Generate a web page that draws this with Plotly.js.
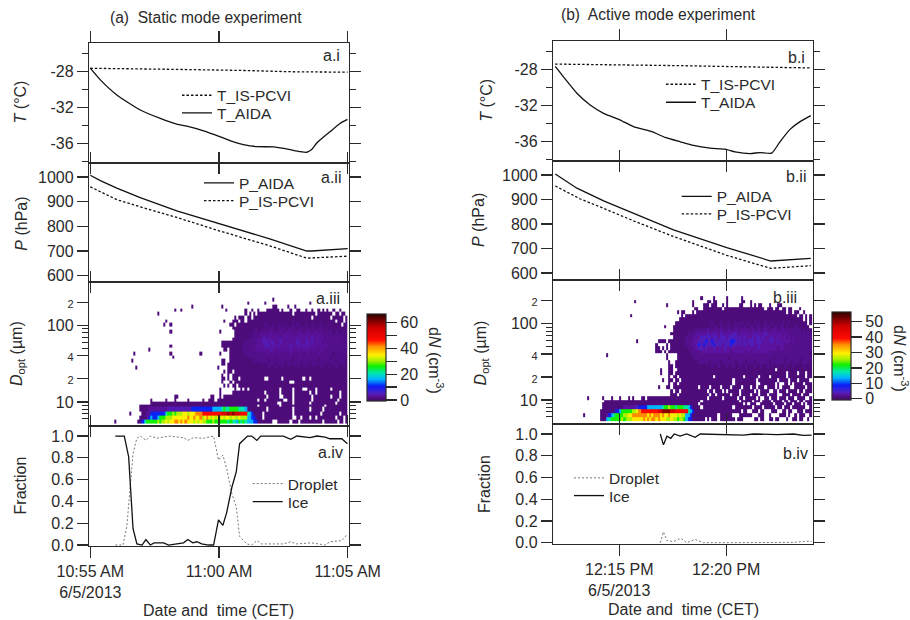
<!DOCTYPE html>
<html><head><meta charset="utf-8">
<script src="https://cdn.plot.ly/plotly-3.0.1.min.js"></script>
<style>html,body{margin:0;padding:0;background:#fff}</style></head>
<body><div id="chart" style="width:910px;height:620px"></div>
<script>
// ---------- line data: minutes after the reference tick, and readings ----------
const aTimeT = [0,.39,1.03,1.94,2.72,3.36,3.75,4.40,5.05,5.56,5.95,6.47,7.12,7.63,8.15,8.41,8.60,8.80,9.31,9.70,9.99];
const aTempAIDA = [-27.59,-28.90,-30.58,-32.26,-33.20,-33.83,-34.06,-34.58,-35.25,-35.81,-36.11,-36.34,-36.37,-36.60,-36.90,-36.97,-36.67,-35.93,-34.69,-33.76,-33.31];
const aTimeTI = [0,2,4,6,8,10];
const aTempPCVI = [-27.6,-27.65,-27.75,-27.85,-28,-28.03];
const aTimeP = [0,.39,1.03,1.94,3.36,5,7,8.41,8.6,10];
const aPresAIDA = [1007,985,955,916,863,811,748,700,700,710];
const aTimePI = [0,1.03,1.94,3.36,5,7,8.41,10];
const aPresPCVI = [960,908,879,836,782,720,671,679];
const aTimeIce = [.97,1.32,1.49,1.58,1.66,1.81,2.01,2.16,2.33,2.48,2.85,3.04,3.62,3.79,3.98,4.14,4.33,4.59,4.79,4.98,5.15,5.30,5.50,5.67,5.80,6.11,6.27,6.47,6.62,7.50,7.79,8.02,8.54,8.80,9.12,9.31,9.77,9.99];
const aIce = [1,1,.81,.47,.15,.01,0,.05,0,.02,.02,0,.02,.05,.02,.03,.01,0,0,.23,.18,.30,.53,.67,.93,1,1,.96,1,1,.97,1,.985,1,.99,.975,.975,.93];
const aTimeDrop = [.97,1.27,1.42,1.55,1.66,1.81,1.94,2.16,2.33,2.59,3.04,3.62,3.79,4.01,4.40,4.79,4.98,5.15,5.30,5.50,5.67,5.80,6.08,6.27,6.47,6.66,7.50,7.79,8.02,8.60,9.12,9.31,9.77,9.99];
const aDroplet = [0,0,.17,.50,.84,.98,1,.96,1,.98,1,.985,.96,.985,.98,1,.78,.825,.70,.47,.35,.08,.01,0,.04,.01,.01,.03,.01,.02,0,.03,.04,.10];

const bTimeT = [-2.99,-2.60,-1.98,-1.36,-.73,.05,.67,1.53,2.15,2.85,3.47,4.25,4.95,5.42,6.12,6.59,7.13,7.52,7.99,8.46,8.96];
const bTempAIDA = [-27.63,-28.82,-30.61,-31.92,-32.85,-33.60,-34.34,-34.90,-35.54,-36.02,-36.43,-36.73,-36.84,-37.14,-37.33,-37.22,-37.29,-36.02,-34.64,-33.78,-33.11];
const bTimeTI = [-3,0,3,6,9];
const bTempPCVI = [-27.37,-27.42,-27.55,-27.68,-27.8];
const bTimeP = [-2.99,-1.98,-.73,.75,2.54,5.03,7.09,8.96];
const bPresAIDA = [1004,946,894,841,776,704,649,660];
const bTimePI = [-2.99,-1.82,-.73,.75,2.54,5.03,7.09,8.96];
const bPresPCVI = [955,902,864,810,749,672,619,630];
const bTimeIce = [1.92,2.07,2.23,2.41,2.57,2.85,3.16,3.55,3.79,4.41,5.03,5.81,6.28,7.37,8.15,8.61,9];
const bIce = [1,.90,.98,.96,1,.98,1,.97,1,.995,.995,.99,1,.995,1,.988,.99];
const bTimeDrop = [1.92,2.07,2.23,2.54,2.88,3.16,3.55,3.94,5.03,8.15,8.92,9];
const bDroplet = [0,.10,.02,.01,.04,0,.03,0,0,.003,.015,.01];

// ---------- tick labels ----------
const aTickMin = [0,5,10];
const aTickText = ['10:55 AM<br>6/5/2013','11:00 AM','11:05 AM'];
const bTickMin = [0,5];
const bTickText = ['12:15 PM<br>6/5/2013','12:20 PM'];
const sizeTicks = [10,20,40,100,200];
const sizeTickText = ['10','<span style="font-size:11px">2</span>','<span style="font-size:11px">4</span>','100','<span style="font-size:11px">2</span>'];
const sizeMinor = [6,7,8,9,50,60,70,80,90];
const aBarTickText = ['0','\u00a0','20','\u00a0','40','\u00a0','60'];
const bBarTickText = ['0','10','20','30','40','50'];

// ---------- size distribution: bin edges (um), rows top first, 120 columns ----------
const sizeEdges = [5.25,5.94,6.72,7.60,8.60,9.30,10.03,11.18,12.46,13.88,15.46,17.22,19.19,21.37,23.80,26.52,29.55,32.92,36.67,40.85,45.51,50.69,56.47,62.91,70.08,78.07,86.97,96.89,108.0,120.2,134.0,149.2,166.3,185.2,206.4,229.8];
// '.' empty, '~' ten empties, P/Q ten p/q; letters index the concentration levels
const aLevels = {p:1,q:2,v:3,u:4.5,b:11,c:16,e:21,g:26,l:31,y:35,o:42,r:48,s:55,d:61};
const bLevels = {p:.8,q:1.7,v:2.6,u:3.9,b:8,c:13.5,e:18,g:22,l:26,y:29.5,o:35,r:40,s:46,d:51};
const aSizeRows = [
"~ ~ ~ ~ ~ ~ ~ ~ .....p.... ~ ~ ~",
"~ ~ ~ ~ ~ ~ ~ ...p...... .p........ ~ ..p....... ~",
"~ ~ ~ ~ .......p.. ~ .p........ ~ .....pp... ..p..p.... ~ ~",
"~ ~ ~ .........p ..p....... ~ ...p...... ..p..p..p. ..pppppp.p ...p..pp.. p..p..p.p. p..p..p...",
"~ ~ ~ .p........ ~ ~ ~ ..p.p.p.pp P pppp.ppppp ppppp.pppp ppp.pp.pp.",
"~ ~ ~ ~ ~ ~ .......p.p pp.pp.pppp P P ppp.pppppp pp.ppppp.p",
"~ ~ ~ .....p.... ~ ~ ..p...ppp. pp.ppppppp P ppppqppppp P pppp.ppp.p",
"~ ~ ~ ....p..p.. ~ ~ .....pp.pp P pqqppqpqpq pqppqpqqpp qppqpppqpp pqppppp.pp",
"~ ~ ~ ~ ~ ~ ......pppp pppppppqpp qqpqqqpqqq qpqqqqpqqq qqpqqpqqqp qpqppqpppq",
"~ ~ ~ .......p.. ~ ~ p......ppp ppppppqqpq qqqqvqqqvq qqvqqqqvqq qvqqqvqqqq qqqpqqpqqp",
"~ ~ ~ ~ ~ ~ .......ppp pppppqqqqv vvvvvvvvqv vvvvvqvvvv vvvvvvvvqq qqqqqqqqpq",
"~ ~ ~ ~ ~ ~ ......pppp pppqqqqvvv uuvuvvvvuv vvvvvvuvvv uvvuvvvvvq vqqqvqqqqq",
"~ ~ ~ ~ ~ ~ .ppppppppp ppqqqqqqvv uuuvuuvvuv vvvvvvuuvv uuvuvvvvqv Q",
"~ ~ ~ .......p.. ~ ~ .ppppppppp pqqqqqqvvv vuuuvuvuvv vvvuvvvuvu vuvvvvvvvv vqqqqqqqqq",
"~ ~ .......p.. ~ ~ ~ ..pp.ppppp pqqqqqqvvv vvvvuvvvvv vvvvvvvvvv vvvvvvqvvq Q",
"~ ~ p......... .......p.. ~ .p........ p....ppppp ppqqqqqqqq qqvqqvqqvq qqqvqqqvqq qvqqqqvqqq qqqpqqqqqq",
"~ ~ ~ ........p. ~ ~ .....ppppp pppqqqqqqq Q Q Q qqpqqqqqqp",
"~ .........p ~ ~ ~ ~ .pp..ppppp ppppppqqqq qqqpqqqqqq qqqqpqqqqq qqqqqqpqqq qqqqpqqqqp",
"~ ~ ~ ~ ~ ~ .pp.pppppp P qpqqqqpqqq qpqqqqqqpq qqpqqqqqqp qpqqqqpqqp",
"~ ~ .p........ ~ ~ .........p ....pppppp P pppqppqppq ppqppqpqpp qpppqppqpp pqppqppppp",
"~ ~ ~ ~ ~ ~ ..p.pp.ppp P P P P P",
"~ ~ ~ ~ ~ ~ .p..p.pppp P P P P P",
"~ ~ ~ ~ ~ ~ .pp.p.ppp. P p..pppppp. ppppppppp. pp.ppppppp P",
"~ ~ ~ ~ ~ ~ .p...p.ppp P P ppp..ppppp P P",
"~ ~ ~ ~ ~ ~ ..p.p.pp.p P P P P P",
"~ ~ ~ ~ ~ ~ p......p.. p.p.pppppp pppppppp.p pppp.pppp. .pppp.pppp pp.ppppppp",
"~ ~ ~ ~ ~ ~ p.....pppp P p.pppppp.p pppp.ppppp pp.pp.pppp pppppp.ppp",
"~ ~ ~ .........p p......... ......pp.. p.pppppppp P pp.ppppp.. pppp.ppppp ppp.pppppp pp.ppp.ppp",
"~ ~ ........p. .....p...p .....p.... ..p..ppp.p P pppppppp.p p.pppppppp ..pp.ppppp ppp.pppppp ppppp.pppp",
"~ ~ ........pp P P P P P ppppppp..p pppp.ppppp pp.ppppppp pppp.ppppp",
"~ ~ ...ppppppp P P P P pppppppp.p pppppppp.p P ppppppppp. P",
"~ ~ ...ppppvvv vvvvvvuuuu uuuuuuubbb bbbbbbbccc cegeegggge eecppppppp pp.ppppppp pppp.ppppp pp.ppppp.p P",
"~ ........p. ....ppvvbb bbbbbegglg lllyylyyyo oorrrrrrrr rsssdsdsss rrrecbpppp .ppppppppp pppp.ppppp ppppppp.pp pppppp.ppp",
"~ ~ ...pppvbcb bcggglllyy yyyyyoyyoy yolyoylyly lylyylylly lllccbbppp .ppppppppp pppp..pp.p pp.pp.pppp pppp.ppp.p",
"~ .p........ ..ppbegggg glgllylyyo oyoyoyyyly lyllggglgg ggggegeecg egecccbbpp ppppp..ppp ppp.ppp.pp pppppppp.p ppppp.pp.p"
];
const bSizeRows = [
"~ ~ ~ ~ ~ ~ ........p. ....p..... p......p.. ~ ~ ~",
"~ ~ ~ .......p.. ~ ~ ....p..... .pp.pp.... p......pp. .p........ ~ ~",
"~ ~ ~ ~ ~ ..p....... ....p....p pp.ppp..p. p.....pp.. .p.p.pp... p...pp.... ~",
"~ ~ ~ ~ ~ ~ .....pp..p pppppppp.p P pppppppp.p pp.pp.pp.p p...p.....",
"~ ~ ~ ~ ~ .......p.p p...p.pppp P P P pppppppp.p p.pp..p...",
"~ ~ ~ .....p.... ~ .........p .ppppppppp P P P P ppp.pp.p.p",
"~ ~ ~ ~ ~ ........pp P P P P P pppppp.p.p",
"~ ~ ~ ~ ~ ......pppp P pppqpppqpp pqppqpqqpp qppqpqppqp pqppqpqppq pppppppp.p",
"~ ~ ~ ~ ~ .p...ppppp P ppqpqqpqqp qqpqqqqpqq pqqpqqpqqq qpqqpqqpqp ppqpppppp.",
"~ ~ ~ ~ ~ .....ppppp pppppqqqqq qvqqqvqvqq qvqqvqqvqv qqvqqvqqvq qqvqqqvqqq qqqqqpqpqp",
"~ ~ ~ ~ ~ ....pppppp ppqqqqvvvv vuvvuvvuvv vvvuuvvvvv vvvuvvvvuv vvvvvvqvqq Q",
"~ ~ ~ ~ ~ .....ppppp pqqqqvvvuu uuuvuuvuuu vuuuuvuvuv vvuvuuvuvv vuvvvvvvqv Q",
"~ ~ ~ ........p. ........pp pp.ppppppp pqqqvvvuuu buubuuuuuu uubbuuuvuv uuuvuuuvvv uuvvuvvvvv qvqqqqqqqq",
"~ ~ ~ ~ .......p.. ..p.pppppp pqqqvvubub uuuubuuuvu uubuuvuvuu vuuvvuvvvv vvvvvvvqvq Q",
"~ ~ ~ ~ .......pp. p.p.pppppp ppqqqvvuuv uvvvuvvvvu vvvvvvvvvv vvvvvuvvvv vvvvqvvqqq Q",
"~ ~ ~ ~ .......ppp .p.ppppppp pppqqqqqvv vvvvvvvvvv vvqvvvvvvq vqvvvqvvvq vqqqqqqqqq qqqqqqqqqp",
"~ ~ ....p..... ~ ~ ..p....ppp ppppqqqqqq Q Q Q Q qqqqqqqqqp",
"~ ~ ~ ~ ~ ..p....ppp pppppqqqqq Q qpqqqqqqqq Q qqpqqqqpqq qqqqqpqqqq",
"~ ~ ~ ~ ~ ...p..pppp pppppppqqq qqpqqqqpqq qqqqpqqqqp qqqpqqqqqq pqqqqqqpqq pqqqpqqqqp",
"~ ~ ~ ~ ~ ...pp.pppp P pppqppqppp qppqppqppq pppqppqppq pqppqppqpp pqppppqppp",
"~ ~ ~ ~ .........p ...pp..ppp P P P P ppp.pppppp P",
"~ ~ ~ ~ .........p ...pp.pppp P P P P pppppppp.p ppp.ppp.pp",
"~ ~ ~ ~ ~ ...p.pp.pp P pppp.ppppp pppppppp.p ppppp.pppp .ppppppp.p ppppppp.pp",
"~ ~ ~ ~ ~ p..pp.pp.p P P ppp.pppppp pppp.ppppp pppp.pppp. ppp.ppppp.",
"~ ~ ~ ~ ~ ...p.pp.pp P P ppp.pppppp pppp..pppp ppp.p..pp. p.pppp.ppp",
"~ ~ ~ ~ ........p. ..pp.ppppp ppppppp.pp pp.pppp.pp pp.pppp.pp p.pp.ppp.p ppp.p.pppp ..ppppp.pp",
"~ ~ ~ ~ ~ ....p.pp.p P p.pp.ppp.p .ppppp.ppp ppp.p.pppp ..pp.ppp.p ppp.pp.ppp",
"~ ~ ~ ~ ~ ....ppp.pp P pp.pp.pppp pp.ppp.ppp p.ppp.ppp. pppp..pppp .pppp.ppp.",
"~ .....p.... ..p...p... p...p.p... pp.ppppppp P P p.pppppp.p ppppp.pp.p pppp.p..pp .ppp.ppp.p pp.pppp..p",
"~ ~ ...ppppppp P P P pppppppp.p P pppppp.ppp pp.ppp.ppp p.pppp.pp. ppp.pp.ppp",
"~ ~ ..pppppppp P P P ppppppp.pp P pppppppp.p .ppp..pppp pp.pppp.pp p.ppp.p.pp",
"~ ~ ..pppppppp ppvvvvvuub bbbccccccc egglggeggg eecbpppp.p P ppp.pppppp pp.pppp.pp ppp.pp.ppp .pppppp..p",
"~ ~ .pppppppbb cgggggllyo rrrrrrrrss ddddssrrrr rrecbppppp P ppppppp.pp ..ppp.pp.. .ppp..pp.p p..ppp.ppp",
"~ ...p...... .pppvbcegg ggllyyoooo oooyoyoooy oyyoyyylyl lccbpppppp pppppp.ppp ppp...pppp pp...ppp.. p....ppp.p ..p.ppp..p",
"~ ~ .pppcegggg glglllyyyy yoyoyooyoy yyllyllgll gcbbpppppp .p.ppp.ppp pppp.ppp.. ...pp.pp.. pp.pp...p. .pp.pp..p."
];
const heatColors = [[0,'#470a66'],[.03,'#4e0c7c'],[.06,'#5a129e'],[.09,'#4f20c0'],[.13,'#2a20e0'],[.17,'#0a1cf5'],[.25,'#00b4ff'],[.32,'#00e8b0'],[.40,'#10f000'],[.46,'#a0f000'],[.53,'#fff000'],[.63,'#ff8c00'],[.70,'#ff0a00'],[.84,'#d00000'],[.95,'#600000'],[1,'#300000']];

// ---------- helpers ----------
const W = 910, H = 620;
const fx = p => p / W, fy = p => 1 - p / H;
const ink = '#2a2a2a';
const sans = '"Liberation Sans", Arial, sans-serif';
const TXT = 16;
function stamp(h, mn, m) {
  return new Date(Date.UTC(2013, 5, 5, h, mn) + m * 60000).toISOString().replace('T', ' ').slice(0, 23);
}
const aT = m => stamp(10, 55, m), bT = m => stamp(12, 15, m);
function decode(rows, levels) {
  return rows.slice().reverse().map(r => {
    const s = r.replace(/ /g, '').replace(/~/g, '..........').replace(/P/g, 'pppppppppp').replace(/Q/g, 'qqqqqqqqqq').padEnd(120, '.').slice(0, 120);
    return s.split('').map(c => c === '.' ? null : levels[c]);
  });
}
const colEdges = (conv, start, step) => Array.from({length: 121}, (_, i) => conv(start + i * step));

const traces = [], layout = {
  width: W, height: H, margin: {l: 0, r: 0, t: 0, b: 0, pad: 0},
  paper_bgcolor: '#fff', plot_bgcolor: 'rgba(0,0,0,0)', showlegend: true,
  font: {family: sans, size: TXT, color: ink}, annotations: [],
  hovermode: false
};

let legendNo = 0;
function addLine(panel, conv, times, vals, name, dash, color, lx, ly, width, smooth) {
  legendNo++;
  const key = legendNo === 1 ? 'legend' : 'legend' + legendNo;
  traces.push({type: 'scatter', mode: 'lines', name, x: times.map(conv), y: vals,
    xaxis: 'x' + panel, yaxis: 'y' + panel, legend: key,
    line: Object.assign({color, width: width || 1.3, dash}, smooth ? {shape: 'spline', smoothing: .5} : {}), hoverinfo: 'skip'});
  layout[key] = {x: fx(lx), y: fy(ly), xanchor: 'left', yanchor: 'middle', bgcolor: 'rgba(0,0,0,0)',
    borderwidth: 0, itemwidth: 30, font: {family: sans, size: 15.5, color: ink}};
}
function note(text, x, y, opts) {
  layout.annotations.push(Object.assign({text, x: fx(x), y: fy(y), xref: 'paper', yref: 'paper',
    showarrow: false, xanchor: 'center', yanchor: 'middle', font: {family: sans, size: TXT, color: ink}}, opts || {}));
}

function buildColumn(o) {
  const base = o.base;
  const yAxes = [
    {range: o.tempRange, tickvals: [-28,-32,-36], ticktext: ['-28','-32','-36'], minor: {tickmode: 'array', tickvals: [-26,-30,-34,-38], ticks: 'outside', ticklen: 6, tickcolor: ink, tickwidth: 1}},
    {range: o.presRange, tickvals: [600,700,800,900,1000], ticktext: ['600','700','800','900','1000']},
    {type: 'log', range: o.sizeRange, tickvals: sizeTicks, ticktext: sizeTickText, minor: {tickmode: 'array', tickvals: sizeMinor, ticks: 'outside', ticklen: 6, tickcolor: ink, tickwidth: 1}},
    {range: o.fracRange, tickvals: [0,.2,.4,.6,.8,1], ticktext: ['0.0','0.2','0.4','0.6','0.8','1.0']}
  ];
  yAxes.forEach((ya, i) => {
    const n = base + i;
    const xkey = 'xaxis' + n, ykey = 'yaxis' + n;
    layout[xkey] = {type: 'date', range: o.xRange, domain: [fx(o.left), fx(o.right)], anchor: 'y' + n,
      tickmode: 'array', tickvals: o.tickMin.map(o.conv), ticktext: o.tickText, showticklabels: i === 3,
      showgrid: false, zeroline: false, showline: true, linecolor: ink, linewidth: 1.2,
      ticks: i === 3 ? 'outside' : 'inside', ticklen: 11, tickcolor: ink, tickwidth: 1.2,
      mirror: (i === 1 || i === 2) ? 'ticks' : true, tickfont: {family: sans, size: TXT, color: ink}, tickangle: 0};
    layout[ykey] = Object.assign({domain: [fy(o.edges[i + 1]), fy(o.edges[i])], anchor: 'x' + n, tickmode: 'array',
      showgrid: false, zeroline: false, showline: true, linecolor: ink, linewidth: 1.2, ticks: 'outside', ticklen: 11,
      tickcolor: ink, tickwidth: 1.2, mirror: 'ticks', tickfont: {family: sans, size: TXT, color: ink}}, ya);
  });
  // extra axes that carry the ticks on the opposite side of the first and last panels
  [[0, 'outside'], [3, 'inside']].forEach(([i, dir]) => {
    const n = base + i, m = o.extra + i / 3;
    layout['xaxis' + m] = {type: 'date', range: o.xRange, domain: [fx(o.left), fx(o.right)], overlaying: 'x' + n, anchor: 'y' + n, side: 'top',
      tickmode: 'array', tickvals: o.tickMin.map(o.conv), showticklabels: false, showgrid: false, zeroline: false, showline: false,
      ticks: dir, ticklen: 11, tickcolor: ink, tickwidth: 1.2};
    traces.push({type: 'scatter', mode: 'lines', x: [], y: [], xaxis: 'x' + m, yaxis: 'y' + n, showlegend: false, hoverinfo: 'skip'});
  });
}

// ---------- left column ----------
buildColumn({base: 1, extra: 9, left: 89, right: 349, edges: [43,163,282,426,546], conv: aT,
  xRange: [aT(-0.0504), aT(10.05)], tickMin: aTickMin, tickText: aTickText,
  tempRange: [-38.17,-24.78], presRange: [574.4,1056.5], sizeRange: [Math.log10(4.86),Math.log10(367)], fracRange: [-.009,1.092]});
addLine(1, aT, aTimeTI, aTempPCVI, 'T_IS-PCVI', '2.5px,2px', '#111', 177, 95.7);
addLine(1, aT, aTimeT, aTempAIDA, 'T_AIDA', 'solid', '#111', 177, 113.3, 1.3, true);
addLine(2, aT, aTimeP, aPresAIDA, 'P_AIDA', 'solid', '#111', 199, 183.3);
addLine(2, aT, aTimePI, aPresPCVI, 'P_IS-PCVI', '2.5px,2px', '#111', 199, 201);
traces.push({type: 'heatmap', x: colEdges(aT, 0, 5/60), y: sizeEdges, z: decode(aSizeRows, aLevels), xaxis: 'x3', yaxis: 'y3',
  zmin: -.8, zmax: 66.7, colorscale: heatColors, zsmooth: false, hoverinfo: 'skip', showlegend: false,
  colorbar: {x: fx(367), xanchor: 'left', xpad: 0, y: fy(357.5), yanchor: 'middle', ypad: 0, thickness: 19, thicknessmode: 'pixels', len: 87, lenmode: 'pixels',
    tickmode: 'array', tickvals: [0,10,20,30,40,50,60], ticktext: aBarTickText, ticks: 'outside', ticklen: 11, tickcolor: ink, tickwidth: 1.2,
    outlinewidth: 1.2, outlinecolor: ink, borderwidth: 0, tickfont: {family: sans, size: TXT, color: ink}}});
addLine(4, aT, aTimeDrop, aDroplet, 'Droplet', '2px,2px', '#777', 247.7, 484, 1);
addLine(4, aT, aTimeIce, aIce, 'Ice', 'solid', '#111', 247.7, 502);

// ---------- right column ----------
buildColumn({base: 5, extra: 12, left: 553, right: 813, edges: [41,161,280,424,544], conv: bT,
  xRange: [bT(-3.098), bT(9.065)], tickMin: bTickMin, tickText: bTickText,
  tempRange: [-38.16,-24.8], presRange: [571.5,1057], sizeRange: [Math.log10(4.85),Math.log10(374)], fracRange: [-.012,1.092]});
addLine(5, bT, bTimeTI, bTempPCVI, 'T_IS-PCVI', '2.5px,2px', '#111', 661, 84.7);
addLine(5, bT, bTimeT, bTempAIDA, 'T_AIDA', 'solid', '#111', 661, 102.7, 1.3, true);
addLine(6, bT, bTimeP, bPresAIDA, 'P_AIDA', 'solid', '#111', 676.7, 196.7);
addLine(6, bT, bTimePI, bPresPCVI, 'P_IS-PCVI', '2.5px,2px', '#111', 676.7, 214.3);
traces.push({type: 'heatmap', x: colEdges(bT, -3, 6/60), y: sizeEdges, z: decode(bSizeRows, bLevels), xaxis: 'x7', yaxis: 'y7',
  zmin: -.85, zmax: 56, colorscale: heatColors, zsmooth: false, hoverinfo: 'skip', showlegend: false,
  colorbar: {x: fx(831.7), xanchor: 'left', xpad: 0, y: fy(356.2), yanchor: 'middle', ypad: 0, thickness: 19, thicknessmode: 'pixels', len: 87.7, lenmode: 'pixels',
    tickmode: 'array', tickvals: [0,10,20,30,40,50], ticktext: bBarTickText, ticks: 'outside', ticklen: 11, tickcolor: ink, tickwidth: 1.2,
    outlinewidth: 1.2, outlinecolor: ink, borderwidth: 0, tickfont: {family: sans, size: TXT, color: ink}}});
addLine(8, bT, bTimeDrop, bDroplet, 'Droplet', '2px,2px', '#777', 569, 478.3, 1);
addLine(8, bT, bTimeIce, bIce, 'Ice', 'solid', '#111', 569, 496);

// ---------- text ----------
const headFont = {font: {family: sans, size: 15.6, color: ink}};
note('(a)\u00a0 Static mode experiment', 206, 17.3, headFont);
note('(b)\u00a0 Active mode experiment', 658.5, 14.3, headFont);
[['a.i',331,55.7],['a.ii',330.7,177.7],['a.iii',328,298.3],['a.iv',330,452.3],
 ['b.i',796,57.3],['b.ii',795.7,176.7],['b.iii',785,297.3],['b.iv',795,453.3]].forEach(l => note(l[0], l[1], l[2]));
const yTitle = {textangle: -90};
note('<i>T</i> (°C)', 20.7, 101.7, yTitle);
note('<i>P</i> (hPa)', 20.7, 224, yTitle);
note('<i>D</i><sub>opt</sub> (µm)', 17, 354, yTitle);
note('Fraction', 20.7, 485.7, yTitle);
note('<i>T</i> (°C)', 487, 100.8, yTitle);
note('<i>P</i> (hPa)', 478, 220, yTitle);
note('<i>D</i><sub>opt</sub> (µm)', 481.7, 352.7, yTitle);
note('Fraction', 484, 484, yTitle);
note('Date and\u00a0 time (CET)', 218.8, 610);
note('Date and\u00a0 time (CET)', 683, 609);
const barTitle = {textangle: 90};
note('d<i>N</i> (cm<sup>-3</sup>)', 436, 360, barTitle);
note('d<i>N</i> (cm<sup>-3</sup>)', 901, 358, barTitle);

Plotly.newPlot('chart', traces, layout, {displayModeBar: false, staticPlot: true});
</script></body></html>
